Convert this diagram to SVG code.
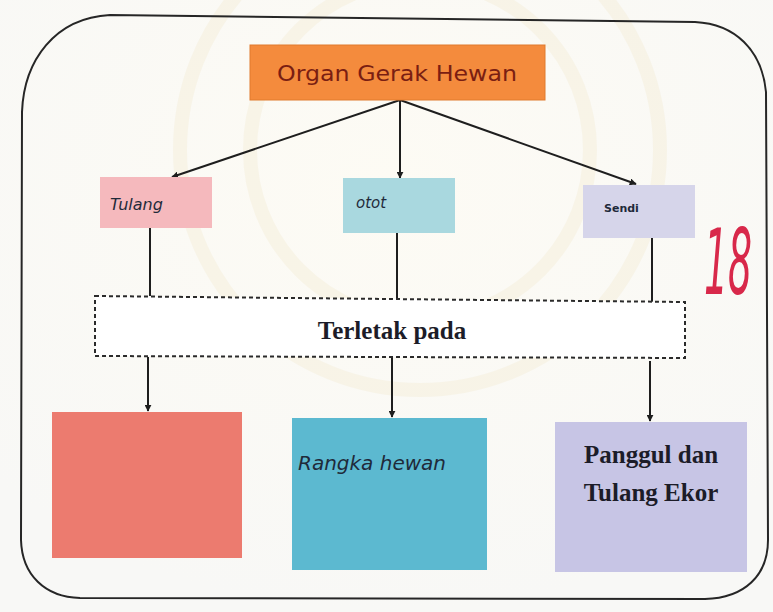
<svg xmlns="http://www.w3.org/2000/svg" width="773" height="612" viewBox="0 0 773 612">
  <style>
    .conn { stroke: #1e1e1e; stroke-width: 2; fill: none; }
    .hand { font-family: "DejaVu Sans", "Noto Sans", sans-serif; fill: #1f2a3a; }
    .serif { font-family: "Liberation Serif", "DejaVu Serif", serif; font-weight: bold; fill: #1c1c28; }
  </style>
  <defs>
    <marker id="arrow" viewBox="0 0 10 10" refX="9" refY="5" markerWidth="7" markerHeight="7" orient="auto-start-reverse" markerUnits="userSpaceOnUse">
      <path d="M0,0 L10,5 L0,10 z" fill="#1e1e1e"/>
    </marker>
    <radialGradient id="paper" cx="0.5" cy="0.3" r="0.7">
      <stop offset="0" stop-color="#fdfbf4"/>
      <stop offset="1" stop-color="#f8f8f6"/>
    </radialGradient>
  </defs>

  <!-- paper -->
  <rect width="773" height="612" fill="url(#paper)"/>
  <!-- faint seal printed on the sheet -->
  <g fill="none" stroke="#f3ead0" stroke-width="14" opacity="0.35">
    <circle cx="420" cy="150" r="240"/>
    <circle cx="420" cy="150" r="170"/>
  </g>

  <!-- outer frame -->
  <path d="M22,112 C24,60 55,18 110,15 L695,22 C735,24 762,50 766,92 L768,540 C768,575 745,598 705,599 L80,598 C45,597 22,575 21,540 Z"
        fill="none" stroke="#262626" stroke-width="2"/>

  <!-- connectors -->
  <g id="connectors">
    <line class="conn" x1="400" y1="100" x2="172" y2="177" marker-end="url(#arrow)"/>
    <line class="conn" x1="400" y1="100" x2="400" y2="178" marker-end="url(#arrow)"/>
    <line class="conn" x1="400" y1="100" x2="636" y2="184" marker-end="url(#arrow)"/>
    <line class="conn" x1="150" y1="228" x2="150" y2="296"/>
    <line class="conn" x1="397" y1="233" x2="397" y2="298"/>
    <line class="conn" x1="652" y1="238" x2="652" y2="302"/>
    <line class="conn" x1="148" y1="357" x2="148" y2="411" marker-end="url(#arrow)"/>
    <line class="conn" x1="392" y1="358" x2="392" y2="417" marker-end="url(#arrow)"/>
    <line class="conn" x1="650" y1="361" x2="650" y2="421" marker-end="url(#arrow)"/>
  </g>

  <g id="root">
    <rect x="250" y="45" width="295" height="55" fill="#f48b3d" stroke="#e07a2e" stroke-width="1"/>
    <text x="397" y="81" text-anchor="middle" font-family="DejaVu Sans, sans-serif" font-size="21" fill="#7a1e12" textLength="240" lengthAdjust="spacingAndGlyphs">Organ Gerak Hewan</text>
  </g>

  <g id="tulang">
    <rect x="100" y="177" width="112" height="51" fill="#f5b9bd"/>
    <text class="hand" x="110" y="210" font-size="16" font-style="italic" fill="#4a1a24">Tulang</text>
  </g>

  <g id="otot">
    <rect x="343" y="178" width="112" height="55" fill="#a9d8df"/>
    <text class="hand" x="356" y="208" font-size="15" font-style="italic" fill="#24405a">otot</text>
  </g>

  <g id="sendi">
    <rect x="583" y="185" width="112" height="53" fill="#d6d5ea"/>
    <text class="hand" x="604" y="212" font-size="11" font-weight="bold">Sendi</text>
  </g>

  <g id="terletak">
    <path d="M95,296 L685,302 L685,358 L95,356 Z" fill="#ffffff" stroke="#2a2a2a" stroke-width="2" stroke-dasharray="4,3"/>
    <text class="serif" x="392" y="339" text-anchor="middle" font-size="25" style="font-weight:600">Terletak pada</text>
  </g>

  <g id="lokasi-tulang">
    <rect x="52" y="412" width="190" height="146" fill="#ec7b6f"/>
  </g>

  <g id="lokasi-otot">
    <rect x="292" y="418" width="195" height="152" fill="#5cb9d0"/>
    <text class="hand" x="298" y="470" font-size="20" font-style="italic">Rangka hewan</text>
  </g>

  <g id="lokasi-sendi">
    <rect x="555" y="422" width="192" height="150" fill="#c7c5e5"/>
    <text class="serif" x="651" y="463" text-anchor="middle" font-size="25">Panggul dan</text>
    <text class="serif" x="651" y="501" text-anchor="middle" font-size="25">Tulang Ekor</text>
  </g>

  <!-- grade written in red ink -->
  <text transform="translate(704,294) scale(0.42,1)" font-family="DejaVu Sans, sans-serif" font-size="90" font-weight="200" font-style="italic" fill="#d8284a">18</text>
</svg>
